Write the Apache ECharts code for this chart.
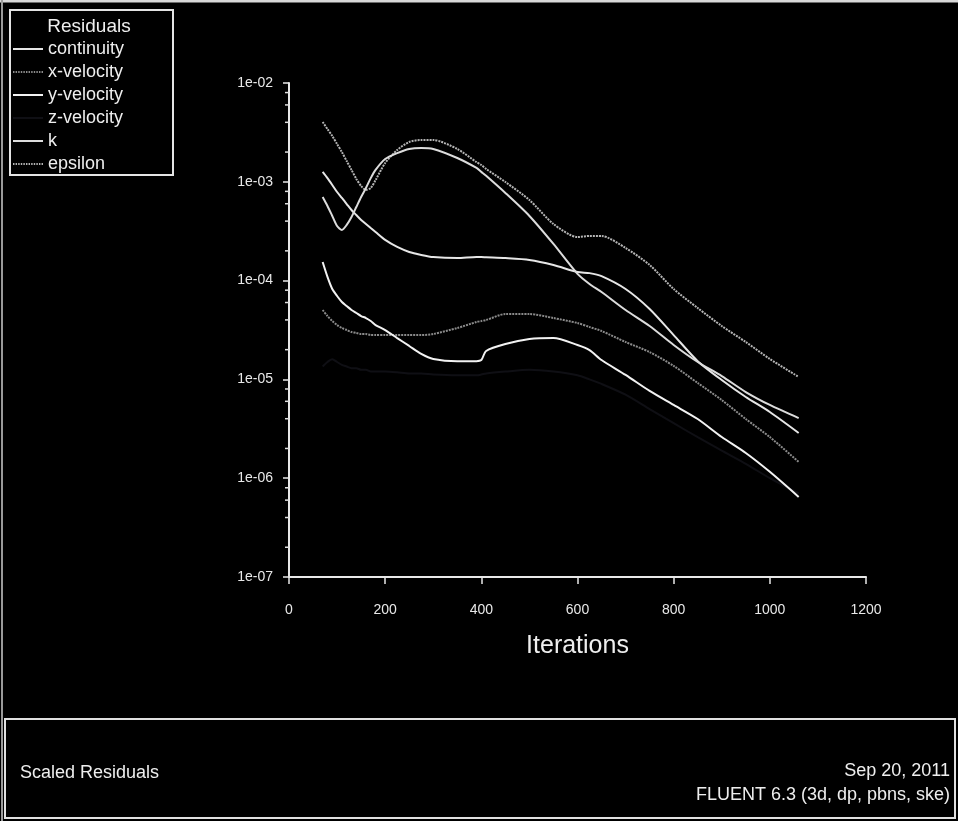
<!DOCTYPE html>
<html><head><meta charset="utf-8">
<script src="https://cdn.jsdelivr.net/npm/echarts@6/dist/echarts.min.js"></script>
<style>html,body{margin:0;padding:0;background:#000;}#c{width:958px;height:821px;}</style>
</head><body><div id="c"></div>
<script>
const iterations = [70,80,90,100,110,120,130,140,150,160,170,180,200,225,250,275,300,350,390,400,410,450,500,550,600,625,650,700,750,800,850,900,950,1000,1060];
const continuity = [1.26e-3,1.09e-3,9.29e-4,7.88e-4,6.86e-4,5.96e-4,5.18e-4,4.61e-4,4.11e-4,3.74e-4,3.40e-4,3.10e-4,2.58e-4,2.19e-4,1.95e-4,1.82e-4,1.73e-4,1.69e-4,1.73e-4,1.73e-4,1.72e-4,1.69e-4,1.62e-4,1.44e-4,1.22e-4,1.19e-4,1.11e-4,8.22e-5,5.16e-5,2.81e-5,1.53e-5,9.86e-6,6.64e-6,4.68e-6,2.87e-6];
const xVelocity = [5.04e-5,4.38e-5,3.90e-5,3.55e-5,3.31e-5,3.16e-5,3.02e-5,2.95e-5,2.88e-5,2.88e-5,2.81e-5,2.81e-5,2.81e-5,2.81e-5,2.81e-5,2.81e-5,2.88e-5,3.31e-5,3.81e-5,3.90e-5,3.99e-5,4.59e-5,4.59e-5,4.18e-5,3.72e-5,3.39e-5,3.09e-5,2.39e-5,1.89e-5,1.37e-5,9.20e-6,6.18e-6,3.97e-6,2.61e-6,1.46e-6];
const yVelocity = [1.54e-4,1.09e-4,8.22e-5,6.98e-5,6.07e-5,5.53e-5,5.04e-5,4.70e-5,4.38e-5,4.18e-5,3.90e-5,3.55e-5,3.16e-5,2.62e-5,2.18e-5,1.81e-5,1.61e-5,1.53e-5,1.53e-5,1.57e-5,1.94e-5,2.28e-5,2.56e-5,2.62e-5,2.23e-5,1.98e-5,1.57e-5,1.11e-5,7.64e-6,5.51e-6,3.97e-6,2.61e-6,1.80e-6,1.16e-6,6.46e-7];
const zVelocity = [1.35e-5,1.5e-5,1.6e-5,1.5e-5,1.4e-5,1.35e-5,1.3e-5,1.3e-5,1.25e-5,1.25e-5,1.2e-5,1.2e-5,1.2e-5,1.18e-5,1.15e-5,1.15e-5,1.12e-5,1.1e-5,1.1e-5,1.12e-5,1.15e-5,1.2e-5,1.25e-5,1.2e-5,1.1e-5,1.0e-5,9e-6,7e-6,5e-6,3.6e-6,2.6e-6,1.9e-6,1.4e-6,1.0e-6,7e-7];
const kRes = [7.02e-4,5.69e-4,4.51e-4,3.57e-4,3.25e-4,3.66e-4,4.40e-4,5.56e-4,7.02e-4,8.65e-4,1.09e-3,1.32e-3,1.70e-3,1.95e-3,2.15e-3,2.20e-3,2.15e-3,1.74e-3,1.38e-3,1.26e-3,1.15e-3,7.71e-4,4.51e-4,2.35e-4,1.17e-4,9.25e-5,7.67e-5,5.04e-5,3.47e-5,2.23e-5,1.50e-5,1.08e-5,7.45e-6,5.51e-6,4.06e-6];
const epsilon = [4.03e-3,3.42e-3,2.91e-3,2.41e-3,2.00e-3,1.62e-3,1.32e-3,1.07e-3,9.07e-4,8.26e-4,8.65e-4,1.04e-3,1.55e-3,2.10e-3,2.53e-3,2.65e-3,2.65e-3,2.15e-3,1.58e-3,1.48e-3,1.35e-3,9.95e-4,6.55e-4,3.74e-4,2.76e-4,2.83e-4,2.83e-4,2.14e-4,1.44e-4,8.22e-5,5.28e-5,3.47e-5,2.39e-5,1.61e-5,1.06e-5];
const seriesNames = ['continuity','x-velocity','y-velocity','z-velocity','k','epsilon'];
const minorTickValues = [8e-3,6e-3,4e-3,2e-3,8e-4,6e-4,4e-4,2e-4,8e-5,6e-5,4e-5,2e-5,8e-6,6e-6,4e-6,2e-6,8e-7,6e-7,4e-7,2e-7];

const FONT = '"Liberation Sans Narrow","Liberation Sans",Arial,sans-serif';
const chart = echarts.init(document.getElementById('c'), null, {renderer:'canvas'});
function pairs(vals){ return iterations.map((it,i)=>[it, vals[i]]); }
const styles = {
  'continuity': {color:'#e6e6e6', type:'solid', width:2},
  'x-velocity': {color:'#8a8a8a', type:[2,1], width:2},
  'y-velocity': {color:'#f2f2f2', type:'solid', width:2},
  'z-velocity': {color:'#0f0f14', type:'solid', width:2},
  'k': {color:'#dcdcdc', type:'solid', width:2},
  'epsilon': {color:'#b4b4b4', type:[2,1], width:2}
};
const dataMap = {'continuity':continuity,'x-velocity':xVelocity,'y-velocity':yVelocity,'z-velocity':zVelocity,'k':kRes,'epsilon':epsilon};
const order = ['z-velocity','x-velocity','epsilon','continuity','k','y-velocity'];
const series = order.map(n=>({
  name:n, type:'line', data:pairs(dataMap[n]), symbol:'none', smooth:0.25,
  lineStyle:{color:styles[n].color, type:styles[n].type, width:styles[n].width},
  itemStyle:{color:styles[n].color}, animation:false, z: n==='z-velocity'?1:3
}));
series.push({
  type:'custom', name:'minorTicks', silent:true, animation:false,
  data: minorTickValues.map(v=>[0,v]),
  renderItem: function(params, api){
    const p = api.coord([0, api.value(1)]);
    return {type:'line', shape:{x1:p[0]-4, y1:p[1], x2:p[0], y2:p[1]}, style:{stroke:'#e0e0e0', lineWidth:1.5}};
  }
});
const solidIcon = 'path://M0,0h30v2h-30z';
let dotted = 'path://';
for (let x = 0; x < 30; x += 2.5) dotted += 'M' + x + ',0h1.4v2h-1.4z';
const legendData = seriesNames.map(n => ({name:n, icon: Array.isArray(styles[n].type) ? dotted : solidIcon}));
function fmtExp(v){ const e = Math.round(Math.log10(v)); return '1e-' + String(-e).padStart(2,'0'); }
chart.setOption({
  backgroundColor:'#000',
  animation:false,
  grid:{left:289, right:92, top:83, bottom:244, containLabel:false},
  legend:{
    data: legendData, orient:'vertical', left:13, top:40, itemWidth:30, itemHeight:14, itemGap:5,
    selectedMode:false, textStyle:{color:'#eeeeee', fontSize:18, fontFamily:FONT}, padding:0
  },
  xAxis:{
    type:'value', min:0, max:1200, interval:200,
    name:'Iterations', nameLocation:'middle', nameGap:57,
    nameTextStyle:{color:'#eeeeee', fontSize:25, fontFamily:FONT},
    axisLine:{lineStyle:{color:'#e8e8e8', width:2}},
    axisTick:{show:true, inside:false, length:7, lineStyle:{color:'#e8e8e8', width:1.5}},
    axisLabel:{color:'#e8e8e8', fontSize:14, fontFamily:FONT, margin:26, formatter:v=>String(v)},
    splitLine:{show:false}
  },
  yAxis:{
    type:'log', logBase:10, min:1e-7, max:1e-2,
    axisLine:{show:true, lineStyle:{color:'#e8e8e8', width:2}},
    axisTick:{show:true, inside:false, length:6, lineStyle:{color:'#e8e8e8', width:1.5}},
    axisLabel:{color:'#e8e8e8', fontSize:14, fontFamily:FONT, margin:16, formatter:fmtExp},
    splitLine:{show:false}, minorTick:{show:false}
  },
  series: series,
  graphic:[
    {type:'line', shape:{x1:0,y1:1,x2:958,y2:1}, style:{stroke:'#d8d8d8', lineWidth:3}},
    {type:'line', shape:{x1:2,y1:0,x2:2,y2:821}, style:{stroke:'#9a9a9a', lineWidth:2}},
    {type:'rect', shape:{x:10,y:10,width:163,height:165}, style:{fill:'none', stroke:'#e4e4e4', lineWidth:2}},
    {type:'text', style:{text:'Residuals', x:89, y:27, align:'center', verticalAlign:'middle', fill:'#eeeeee', font:'19px '+FONT}},
    {type:'rect', shape:{x:5,y:719,width:950,height:99}, style:{fill:'none', stroke:'#e0e0e0', lineWidth:2}},
    {type:'text', style:{text:'Scaled Residuals', x:20, y:773, align:'left', verticalAlign:'middle', fill:'#eeeeee', font:'18px '+FONT}},
    {type:'text', style:{text:'Sep 20, 2011', x:950, y:771, align:'right', verticalAlign:'middle', fill:'#eeeeee', font:'18px '+FONT}},
    {type:'text', style:{text:'FLUENT 6.3 (3d, dp, pbns, ske)', x:950, y:795, align:'right', verticalAlign:'middle', fill:'#eeeeee', font:'18px '+FONT}}
  ]
});
</script></body></html>
